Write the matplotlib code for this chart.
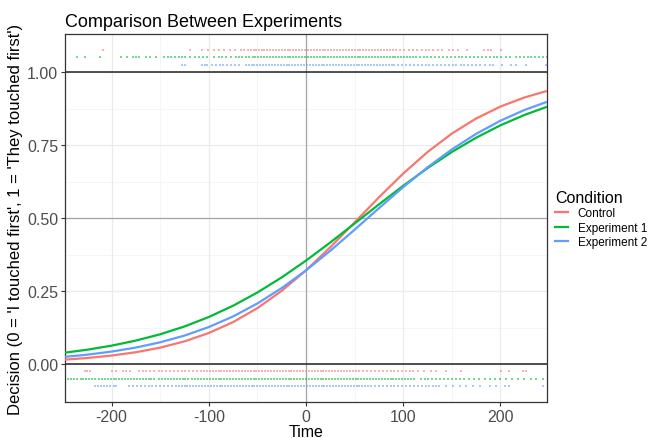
import matplotlib
matplotlib.use("Agg")
import matplotlib.pyplot as plt
from matplotlib.lines import Line2D

plt.rcParams['font.family'] = ['Liberation Sans', 'DejaVu Sans']

# ---------------- data ----------------
conditions = ["Control", "Experiment 1", "Experiment 2"]
colors = ["#F8766D", "#00BA38", "#619CFF"]

curve_time = [-248, -225, -200, -175, -150, -125, -100, -75, -50, -25, 0,
              25, 50, 75, 100, 125, 150, 175, 200, 225, 248]
control_fit = [0.0152, 0.0207, 0.0291, 0.0405, 0.0562, 0.0776, 0.1063, 0.1437,
               0.1916, 0.2507, 0.3208, 0.4001, 0.4850, 0.5708, 0.6525, 0.7261,
               0.7892, 0.8409, 0.8818, 0.9133, 0.9354]
exp1_fit = [0.0390, 0.0491, 0.0630, 0.0804, 0.1020, 0.1287, 0.1611, 0.1998,
            0.2451, 0.2968, 0.3543, 0.4164, 0.4813, 0.5468, 0.6106, 0.6709,
            0.7261, 0.7751, 0.8176, 0.8535, 0.8812]
exp2_fit = [0.0247, 0.0321, 0.0427, 0.0565, 0.0745, 0.0975, 0.1267, 0.1631,
            0.2075, 0.2602, 0.3208, 0.3882, 0.4601, 0.5337, 0.6059, 0.6737,
            0.7350, 0.7883, 0.8334, 0.8705, 0.8981]

# observed decision times (response = 1 : "They touched first")
control_times_1 = [-209, -119, -107, -101, -95, -90, -84, -78, -73, -67, -64, -60, -57, -54, -51, -48, -45,
                   -43, -40, -37, -34, -31, -28, -25, -22, -19, -16, -13, -10, -7, -4, -1, 2, 5, 8, 11, 14,
                   17, 20, 23, 26, 29, 32, 35, 38, 41, 44, 47, 50, 53, 56, 59, 62, 65, 68, 71, 74, 77, 80,
                   83, 86, 89, 93, 97, 101, 106, 110, 114, 119, 123, 127, 131, 136, 140,
                   147, 151, 156, 166, 183, 187, 190, 201]
exp1_times_1 = [-236, -227, -212, -190, -184, -178, -175, -172, -165, -160, -154, -146, -142, -139, -135,
                -131, -128, -124, -119, -114, -110, -106, -102, -95, -90, -86, -82, -77, -72, -69, -66,
                -62, -59, -55, -52, -49, -46, -43, -40, -37, -34, -31, -28, -25, -22, -19, -16, -13, -10,
                -7, -4, -1, 2, 5, 8, 11, 14, 17, 20, 23, 26, 29, 32, 35, 38, 41, 44, 47, 50, 53, 56, 59,
                62, 65, 68, 71, 74, 77, 80, 83, 86, 89, 92, 95, 98, 101, 104, 107, 110, 113,
                117, 121, 125, 129, 133, 137, 141, 145, 149, 153, 157, 161, 165, 169, 173, 177, 181, 185,
                189, 193, 197, 201, 206, 210, 216, 220, 224, 228, 232, 236, 240, 244, 248]
exp2_times_1 = [-128, -125, -107, -104, -102, -97, -93, -89, -85, -81, -77, -73, -69,
                -62, -59, -56, -53, -50, -47, -44, -41, -38, -35, -32, -29, -26, -23, -20, -17, -14, -11,
                -8, -5, -2, 1, 4, 7, 10, 13, 16, 19, 22, 25, 28, 31, 34, 37, 40, 43, 46, 49, 52, 55, 58,
                61, 64, 67, 70, 73, 76, 79, 82, 85, 88, 91,
                95, 99, 103, 107, 111, 115, 119, 123, 127, 131, 135, 139, 143, 147, 151, 154,
                159, 163, 167, 171, 175, 179, 184, 189, 192, 202, 211, 216, 226, 247]

# observed decision times (response = 0 : "I touched first")
control_times_0 = [-227, -225, -222, -200, -195, -188, -185, -181, -172, -168, -165, -160, -156, -151,
                   -148, -144, -140, -136, -132, -128, -124, -120, -116, -112, -108,
                   -105, -102, -99, -96, -93, -90, -87, -84, -81, -78, -75, -72, -69, -66, -63, -60, -57,
                   -54, -51, -48, -45, -42, -39, -36, -33, -30, -27, -24, -21, -18, -15, -12, -9, -6, -3,
                   0, 3, 6, 9, 12, 15, 18, 21, 24, 27, 30, 33, 36, 39, 42, 45, 48, 51,
                   55, 59, 63, 67, 71, 75, 79, 83, 87, 91, 95, 99, 103, 107, 110,
                   115, 121, 129, 134, 144, 159, 201, 209, 223, 226]
exp1_times_0 = [-248, -245, -242, -239, -236, -232, -229, -226, -223, -220, -217, -213, -210, -207, -204,
                -201, -198, -195, -192, -189, -186, -183, -180, -177, -174, -171, -168, -165, -162, -159,
                -156, -151, -148, -145, -142, -139, -136, -133, -130, -127, -124, -121,
                -117, -114, -111, -108, -105, -102, -99, -96, -93, -90, -87, -84, -81, -78, -75, -72, -69,
                -66, -63, -60, -57, -54, -51, -48, -45, -42, -39, -36, -33, -30, -27, -24, -21, -18, -15,
                -12, -9, -6, -3, 0, 3, 6, 9, 12, 15, 18, 21, 24, 27, 30, 33, 36, 39, 42, 45, 48, 51, 54,
                57, 60, 63, 66, 69, 72, 75, 78, 81, 84, 87, 90, 93, 96, 99, 102, 105, 108, 111,
                118, 122, 126, 130, 134, 138, 142, 146, 150, 154, 158, 163, 168, 173, 178, 184, 189,
                194, 200, 206, 212, 218, 224, 231, 237, 244]
exp2_times_0 = [-217, -214, -211, -208, -205, -202, -198, -195, -182, -178, -174, -170, -166, -162, -158,
                -154, -150, -146, -142, -138, -134,
                -131, -128, -125, -122, -119, -116, -113, -110, -107, -104, -101, -98, -95, -92, -89, -86,
                -83, -80, -77, -74, -71, -68, -65, -62, -59, -56, -53, -50, -47, -44, -41, -38, -35, -32,
                -29, -26, -23, -20, -17, -14, -11, -8, -5, -2, 1, 4, 7, 10, 13, 16, 19, 22, 25, 28, 31,
                34, 37, 40, 43, 46, 49, 52, 55, 58, 61, 64,
                67, 71, 75, 79, 83, 87, 91, 95, 99, 103, 107, 111, 115, 119, 123, 127, 131, 134,
                137, 144, 151, 158, 165, 172, 179, 189, 196, 205, 209, 244]

x_ticks = [-200, -100, 0, 100, 200]
y_ticks = [0.00, 0.25, 0.50, 0.75, 1.00]
y_tick_labels = ["0.00", "0.25", "0.50", "0.75", "1.00"]

fits = [control_fit, exp1_fit, exp2_fit]
times_1 = [control_times_1, exp1_times_1, exp2_times_1]
times_0 = [control_times_0, exp1_times_0, exp2_times_0]
nudge_1 = [0.075, 0.05, 0.025]
nudge_0 = [-0.025, -0.05, -0.075]

# ---------------- figure ----------------
fig = plt.figure(figsize=(6.51, 4.39), dpi=100)
ax = fig.add_axes([0.0998, 0.082, 0.7405, 0.838])
ax.set_facecolor("white")

ax.set_xlim(-248, 248)
ax.set_ylim(-0.13, 1.13)

# grid (theme_bw)
for v in [-250, -150, -50, 50, 150, 250]:
    ax.axvline(v, color="#F2F2F2", lw=0.5, zorder=0)
for v in [0.125, 0.375, 0.625, 0.875]:
    ax.axhline(v, color="#F2F2F2", lw=0.5, zorder=0)
for v in x_ticks:
    ax.axvline(v, color="#EBEBEB", lw=0.9, zorder=0)
for v in y_ticks:
    ax.axhline(v, color="#EBEBEB", lw=0.9, zorder=0)

# reference lines
ax.axvline(0, color="#A6A6A6", lw=0.9, zorder=1)
ax.axhline(0.5, color="#A6A6A6", lw=0.9, zorder=1)
ax.axhline(0, color="#222222", lw=1.1, zorder=1)
ax.axhline(1, color="#222222", lw=1.1, zorder=1)

# points
for i in range(3):
    ax.scatter(times_1[i], [1 + nudge_1[i]] * len(times_1[i]), s=3.2, marker="s",
               color=colors[i], alpha=0.55, linewidths=0, zorder=2)
    ax.scatter(times_0[i], [0 + nudge_0[i]] * len(times_0[i]), s=3.2, marker="s",
               color=colors[i], alpha=0.55, linewidths=0, zorder=2)

# fitted curves
for i in range(3):
    ax.plot(curve_time, fits[i], color=colors[i], lw=1.6, zorder=3,
            solid_capstyle="butt")

ax.set_xticks(x_ticks)
ax.set_xticklabels([str(t) for t in x_ticks])
ax.set_yticks(y_ticks)
ax.set_yticklabels(y_tick_labels)
ax.tick_params(axis="both", length=3, width=0.8, color="#333333",
               labelcolor="#4D4D4D", labelsize=11.5, pad=2)

for s in ax.spines.values():
    s.set_color("#333333")
    s.set_linewidth(0.9)

ax.set_xlabel("Time", fontsize=11.5, labelpad=0)
ax.set_ylabel("Decision (0 = 'I touched first', 1 = 'They touched first')", fontsize=12, labelpad=3)
ax.set_title("Comparison Between Experiments", fontsize=13, loc="left", pad=6)

handles = [Line2D([0], [0], color=c, lw=1.6) for c in colors]
leg = fig.legend(handles, conditions, title="Condition", loc="upper left",
                 bbox_to_anchor=(0.853, 0.565), frameon=False, fontsize=8.5,
                 title_fontsize=11.5, handlelength=1.1, handletextpad=0.8,
                 labelspacing=0.2, borderaxespad=0, borderpad=0)
leg._legend_box.align = "left"

fig.savefig("out.png", dpi=100)
